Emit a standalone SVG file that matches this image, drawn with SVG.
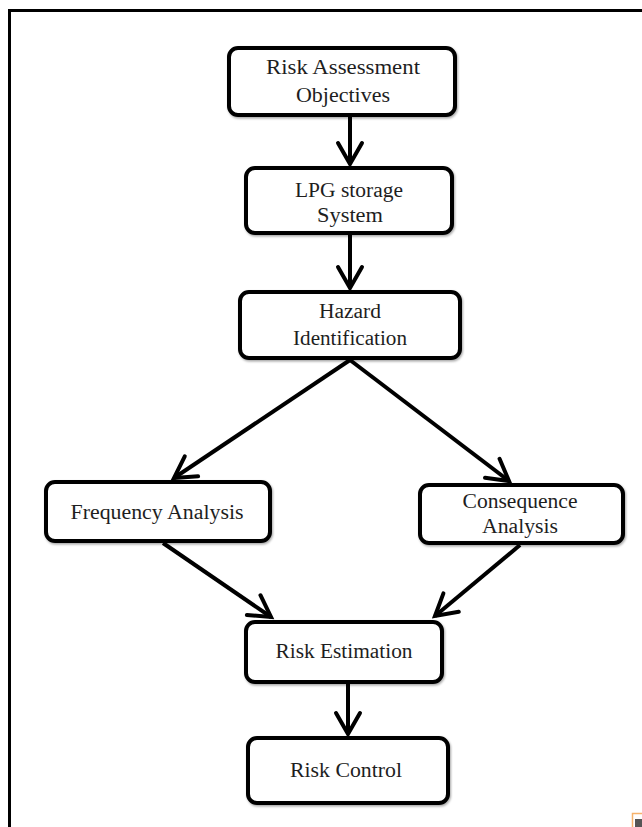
<svg xmlns="http://www.w3.org/2000/svg" width="642" height="827" viewBox="0 0 642 827">
  <style>
    .box { fill: #ffffff; stroke: #000000; stroke-width: 4; }
    .lbl { font-family: "Liberation Serif", "Times New Roman", serif; font-size: 20.5px; fill: #1e1e1e; text-anchor: middle; }
    .conn { stroke: #000000; stroke-width: 4; fill: none; marker-end: url(#chev); }
  </style>
  <defs>
    <marker id="chev" markerUnits="userSpaceOnUse" markerWidth="40" markerHeight="40" viewBox="-30 -20 40 40" refX="0" refY="0" orient="auto">
      <path d="M-21,-12 L0,0 L-21,12" fill="none" stroke="#000000" stroke-width="4" stroke-linejoin="miter" stroke-linecap="round"/>
    </marker>
    <filter id="sh" x="-10%" y="-10%" width="120%" height="130%">
      <feDropShadow dx="1" dy="1.5" stdDeviation="1.2" flood-color="#000000" flood-opacity="0.35"/>
    </filter>
  </defs>
  <rect x="0" y="0" width="642" height="827" fill="#ffffff"/>
  <path d="M9.5,827 V10.5 H642" fill="none" stroke="#000000" stroke-width="3"/>

  <g id="connectors">
    <path class="conn" d="M350,117 L350,164"/>
    <path class="conn" d="M350,235 L350,288"/>
    <path class="conn" d="M350,360 L174,478"/>
    <path class="conn" d="M350,360 L509,481"/>
    <path class="conn" d="M163,543 L271,617"/>
    <path class="conn" d="M520,545 L435,616"/>
    <path class="conn" d="M348,684 L348,734"/>
  </g>

  <g id="risk-assessment-objectives">
    <rect class="box" filter="url(#sh)" x="229" y="48" width="226" height="67" rx="9"/>
    <text class="lbl" x="343" y="74" textLength="154" lengthAdjust="spacingAndGlyphs">Risk Assessment</text>
    <text class="lbl" x="343" y="102" textLength="94" lengthAdjust="spacingAndGlyphs">Objectives</text>
  </g>
  <g id="lpg-storage-system">
    <rect class="box" filter="url(#sh)" x="246" y="168" width="206" height="65" rx="9"/>
    <text class="lbl" x="349" y="197" textLength="108" lengthAdjust="spacingAndGlyphs">LPG storage</text>
    <text class="lbl" x="350" y="222" textLength="66" lengthAdjust="spacingAndGlyphs">System</text>
  </g>
  <g id="hazard-identification">
    <rect class="box" filter="url(#sh)" x="240" y="292" width="220" height="66" rx="9"/>
    <text class="lbl" x="350" y="318" textLength="62" lengthAdjust="spacingAndGlyphs">Hazard</text>
    <text class="lbl" x="350" y="345" textLength="114" lengthAdjust="spacingAndGlyphs">Identification</text>
  </g>
  <g id="frequency-analysis">
    <rect class="box" filter="url(#sh)" x="46" y="482" width="224" height="59" rx="9"/>
    <text class="lbl" x="157" y="519" textLength="173" lengthAdjust="spacingAndGlyphs">Frequency Analysis</text>
  </g>
  <g id="consequence-analysis">
    <rect class="box" filter="url(#sh)" x="420" y="485" width="203" height="58" rx="9"/>
    <text class="lbl" x="520" y="508" textLength="115" lengthAdjust="spacingAndGlyphs">Consequence</text>
    <text class="lbl" x="520" y="533" textLength="76" lengthAdjust="spacingAndGlyphs">Analysis</text>
  </g>
  <g id="risk-estimation">
    <rect class="box" filter="url(#sh)" x="246" y="622" width="196" height="60" rx="9"/>
    <text class="lbl" x="344" y="658" textLength="137" lengthAdjust="spacingAndGlyphs">Risk Estimation</text>
  </g>
  <g id="risk-control">
    <rect class="box" filter="url(#sh)" x="248" y="738" width="200" height="65" rx="9"/>
    <text class="lbl" x="346" y="777" textLength="112" lengthAdjust="spacingAndGlyphs">Risk Control</text>
  </g>

  <rect x="632.5" y="813.5" width="12" height="16" fill="none" stroke="#f6b26b" stroke-width="1.5"/>
  <rect x="635" y="819" width="8" height="8" fill="#555555"/>
</svg>
